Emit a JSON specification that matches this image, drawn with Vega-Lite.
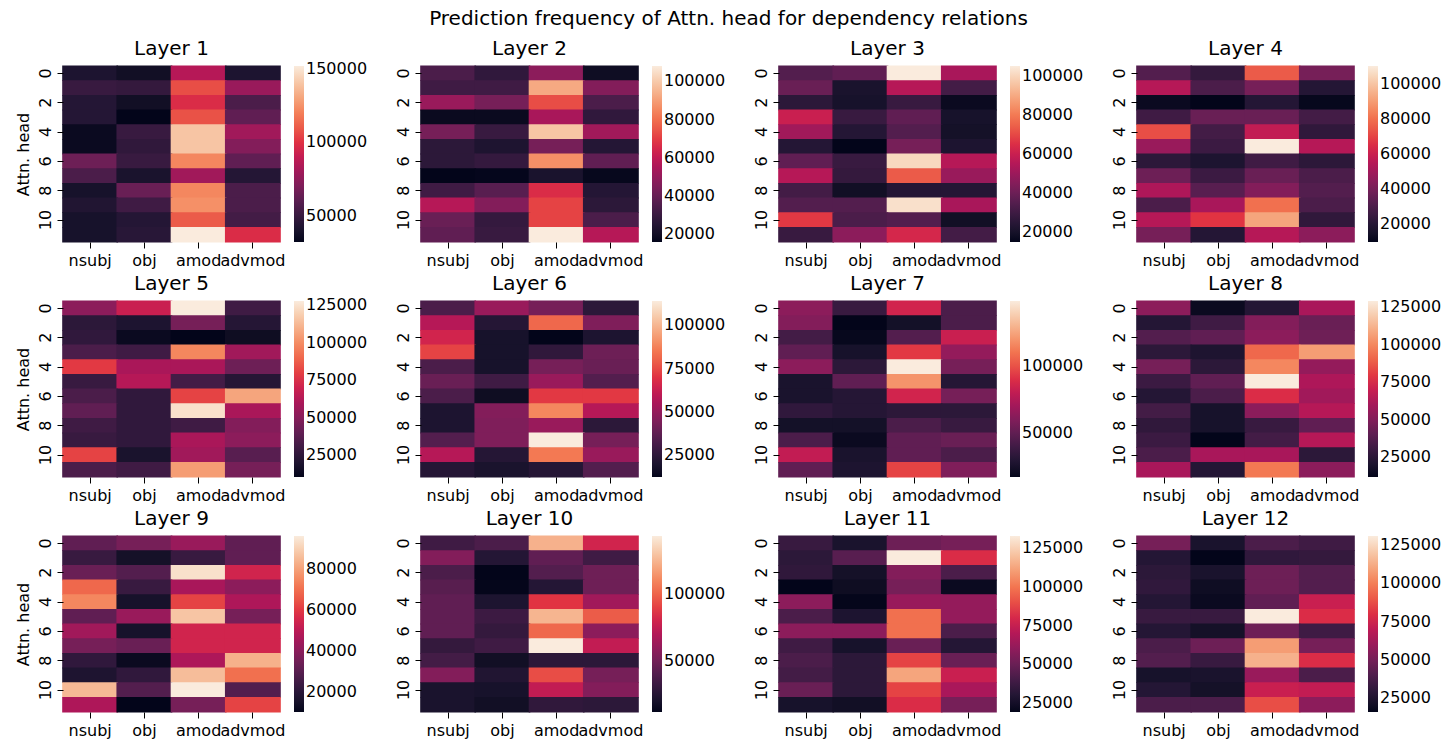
{
"$schema":"https://vega.github.io/schema/vega-lite/v6.json",
"padding":{"left":15,"top":8,"right":2,"bottom":3},
"title":{"text":"Prediction frequency of Attn. head for dependency relations","fontSize":20,"fontWeight":"normal","anchor":"middle","offset":10,"color":"#000"},
"data":{"values":[
{"l":1,"h":0,"r":"nsubj","v":41600},{"l":1,"h":0,"r":"obj","v":36800},{"l":1,"h":0,"r":"amod","v":86000},{"l":1,"h":0,"r":"advmod","v":41600},
{"l":1,"h":1,"r":"nsubj","v":50000},{"l":1,"h":1,"r":"obj","v":48800},{"l":1,"h":1,"r":"amod","v":106400},{"l":1,"h":1,"r":"advmod","v":77600},
{"l":1,"h":2,"r":"nsubj","v":44000},{"l":1,"h":2,"r":"obj","v":36800},{"l":1,"h":2,"r":"amod","v":98000},{"l":1,"h":2,"r":"advmod","v":56000},
{"l":1,"h":3,"r":"nsubj","v":44000},{"l":1,"h":3,"r":"obj","v":32000},{"l":1,"h":3,"r":"amod","v":107600},{"l":1,"h":3,"r":"advmod","v":62000},
{"l":1,"h":4,"r":"nsubj","v":34400},{"l":1,"h":4,"r":"obj","v":50000},{"l":1,"h":4,"r":"amod","v":140000},{"l":1,"h":4,"r":"advmod","v":80000},
{"l":1,"h":5,"r":"nsubj","v":34400},{"l":1,"h":5,"r":"obj","v":47600},{"l":1,"h":5,"r":"amod","v":140000},{"l":1,"h":5,"r":"advmod","v":71600},
{"l":1,"h":6,"r":"nsubj","v":65600},{"l":1,"h":6,"r":"obj","v":50000},{"l":1,"h":6,"r":"amod","v":122000},{"l":1,"h":6,"r":"advmod","v":62000},
{"l":1,"h":7,"r":"nsubj","v":56000},{"l":1,"h":7,"r":"obj","v":40400},{"l":1,"h":7,"r":"amod","v":80000},{"l":1,"h":7,"r":"advmod","v":44000},
{"l":1,"h":8,"r":"nsubj","v":39200},{"l":1,"h":8,"r":"obj","v":64400},{"l":1,"h":8,"r":"amod","v":122000},{"l":1,"h":8,"r":"advmod","v":56000},
{"l":1,"h":9,"r":"nsubj","v":42800},{"l":1,"h":9,"r":"obj","v":52400},{"l":1,"h":9,"r":"amod","v":124400},{"l":1,"h":9,"r":"advmod","v":56000},
{"l":1,"h":10,"r":"nsubj","v":39200},{"l":1,"h":10,"r":"obj","v":44000},{"l":1,"h":10,"r":"amod","v":110000},{"l":1,"h":10,"r":"advmod","v":53600},
{"l":1,"h":11,"r":"nsubj","v":39200},{"l":1,"h":11,"r":"obj","v":45200},{"l":1,"h":11,"r":"amod","v":152000},{"l":1,"h":11,"r":"advmod","v":98000},
{"l":2,"h":0,"r":"nsubj","v":34400},{"l":2,"h":0,"r":"obj","v":28000},{"l":2,"h":0,"r":"amod","v":48200},{"l":2,"h":0,"r":"advmod","v":18800},
{"l":2,"h":1,"r":"nsubj","v":31600},{"l":2,"h":1,"r":"obj","v":31600},{"l":2,"h":1,"r":"amod","v":92400},{"l":2,"h":1,"r":"advmod","v":46400},
{"l":2,"h":2,"r":"nsubj","v":51000},{"l":2,"h":2,"r":"obj","v":43600},{"l":2,"h":2,"r":"amod","v":73000},{"l":2,"h":2,"r":"advmod","v":34400},
{"l":2,"h":3,"r":"nsubj","v":17800},{"l":2,"h":3,"r":"obj","v":17800},{"l":2,"h":3,"r":"amod","v":54600},{"l":2,"h":3,"r":"advmod","v":28000},
{"l":2,"h":4,"r":"nsubj","v":43600},{"l":2,"h":4,"r":"obj","v":29800},{"l":2,"h":4,"r":"amod","v":98800},{"l":2,"h":4,"r":"advmod","v":52800},
{"l":2,"h":5,"r":"nsubj","v":27000},{"l":2,"h":5,"r":"obj","v":23400},{"l":2,"h":5,"r":"amod","v":43600},{"l":2,"h":5,"r":"advmod","v":25200},
{"l":2,"h":6,"r":"nsubj","v":27000},{"l":2,"h":6,"r":"obj","v":28900},{"l":2,"h":6,"r":"amod","v":86800},{"l":2,"h":6,"r":"advmod","v":39000},
{"l":2,"h":7,"r":"nsubj","v":16000},{"l":2,"h":7,"r":"obj","v":16500},{"l":2,"h":7,"r":"amod","v":22400},{"l":2,"h":7,"r":"advmod","v":16900},
{"l":2,"h":8,"r":"nsubj","v":31600},{"l":2,"h":8,"r":"obj","v":37200},{"l":2,"h":8,"r":"amod","v":66600},{"l":2,"h":8,"r":"advmod","v":25200},
{"l":2,"h":9,"r":"nsubj","v":57400},{"l":2,"h":9,"r":"obj","v":46400},{"l":2,"h":9,"r":"amod","v":71200},{"l":2,"h":9,"r":"advmod","v":27000},
{"l":2,"h":10,"r":"nsubj","v":40800},{"l":2,"h":10,"r":"obj","v":28900},{"l":2,"h":10,"r":"amod","v":71200},{"l":2,"h":10,"r":"advmod","v":34400},
{"l":2,"h":11,"r":"nsubj","v":39000},{"l":2,"h":11,"r":"obj","v":29800},{"l":2,"h":11,"r":"amod","v":108000},{"l":2,"h":11,"r":"advmod","v":57400},
{"l":3,"h":0,"r":"nsubj","v":34800},{"l":3,"h":0,"r":"obj","v":37500},{"l":3,"h":0,"r":"amod","v":105000},{"l":3,"h":0,"r":"advmod","v":52800},
{"l":3,"h":1,"r":"nsubj","v":39300},{"l":3,"h":1,"r":"obj","v":21300},{"l":3,"h":1,"r":"amod","v":55500},{"l":3,"h":1,"r":"advmod","v":31200},
{"l":3,"h":2,"r":"nsubj","v":25800},{"l":3,"h":2,"r":"obj","v":20400},{"l":3,"h":2,"r":"amod","v":28500},{"l":3,"h":2,"r":"advmod","v":16800},
{"l":3,"h":3,"r":"nsubj","v":60000},{"l":3,"h":3,"r":"obj","v":28500},{"l":3,"h":3,"r":"amod","v":37500},{"l":3,"h":3,"r":"advmod","v":20400},
{"l":3,"h":4,"r":"nsubj","v":51000},{"l":3,"h":4,"r":"obj","v":24000},{"l":3,"h":4,"r":"amod","v":34800},{"l":3,"h":4,"r":"advmod","v":19500},
{"l":3,"h":5,"r":"nsubj","v":24000},{"l":3,"h":5,"r":"obj","v":15000},{"l":3,"h":5,"r":"amod","v":42000},{"l":3,"h":5,"r":"advmod","v":22200},
{"l":3,"h":6,"r":"nsubj","v":37500},{"l":3,"h":6,"r":"obj","v":28500},{"l":3,"h":6,"r":"amod","v":100500},{"l":3,"h":6,"r":"advmod","v":55500},
{"l":3,"h":7,"r":"nsubj","v":55500},{"l":3,"h":7,"r":"obj","v":27600},{"l":3,"h":7,"r":"amod","v":73500},{"l":3,"h":7,"r":"advmod","v":49200},
{"l":3,"h":8,"r":"nsubj","v":31200},{"l":3,"h":8,"r":"obj","v":18600},{"l":3,"h":8,"r":"amod","v":24000},{"l":3,"h":8,"r":"advmod","v":24000},
{"l":3,"h":9,"r":"nsubj","v":34800},{"l":3,"h":9,"r":"obj","v":34800},{"l":3,"h":9,"r":"amod","v":102300},{"l":3,"h":9,"r":"advmod","v":52800},
{"l":3,"h":10,"r":"nsubj","v":67200},{"l":3,"h":10,"r":"obj","v":33000},{"l":3,"h":10,"r":"amod","v":34800},{"l":3,"h":10,"r":"advmod","v":18600},
{"l":3,"h":11,"r":"nsubj","v":28500},{"l":3,"h":11,"r":"obj","v":46500},{"l":3,"h":11,"r":"amod","v":62700},{"l":3,"h":11,"r":"advmod","v":31200},
{"l":4,"h":0,"r":"nsubj","v":32000},{"l":4,"h":0,"r":"obj","v":24000},{"l":4,"h":0,"r":"amod","v":75000},{"l":4,"h":0,"r":"advmod","v":40000},
{"l":4,"h":1,"r":"nsubj","v":55000},{"l":4,"h":1,"r":"obj","v":30000},{"l":4,"h":1,"r":"amod","v":40000},{"l":4,"h":1,"r":"advmod","v":20000},
{"l":4,"h":2,"r":"nsubj","v":12000},{"l":4,"h":2,"r":"obj","v":10000},{"l":4,"h":2,"r":"amod","v":20000},{"l":4,"h":2,"r":"advmod","v":11000},
{"l":4,"h":3,"r":"nsubj","v":27000},{"l":4,"h":3,"r":"obj","v":37000},{"l":4,"h":3,"r":"amod","v":37000},{"l":4,"h":3,"r":"advmod","v":28000},
{"l":4,"h":4,"r":"nsubj","v":72000},{"l":4,"h":4,"r":"obj","v":28000},{"l":4,"h":4,"r":"amod","v":58000},{"l":4,"h":4,"r":"advmod","v":23000},
{"l":4,"h":5,"r":"nsubj","v":48000},{"l":4,"h":5,"r":"obj","v":26000},{"l":4,"h":5,"r":"amod","v":110000},{"l":4,"h":5,"r":"advmod","v":55000},
{"l":4,"h":6,"r":"nsubj","v":22000},{"l":4,"h":6,"r":"obj","v":18000},{"l":4,"h":6,"r":"amod","v":27000},{"l":4,"h":6,"r":"advmod","v":22000},
{"l":4,"h":7,"r":"nsubj","v":38000},{"l":4,"h":7,"r":"obj","v":26000},{"l":4,"h":7,"r":"amod","v":37000},{"l":4,"h":7,"r":"advmod","v":30000},
{"l":4,"h":8,"r":"nsubj","v":53000},{"l":4,"h":8,"r":"obj","v":33000},{"l":4,"h":8,"r":"amod","v":43000},{"l":4,"h":8,"r":"advmod","v":32000},
{"l":4,"h":9,"r":"nsubj","v":30000},{"l":4,"h":9,"r":"obj","v":52000},{"l":4,"h":9,"r":"amod","v":80000},{"l":4,"h":9,"r":"advmod","v":30000},
{"l":4,"h":10,"r":"nsubj","v":55000},{"l":4,"h":10,"r":"obj","v":67000},{"l":4,"h":10,"r":"amod","v":92000},{"l":4,"h":10,"r":"advmod","v":23000},
{"l":4,"h":11,"r":"nsubj","v":40000},{"l":4,"h":11,"r":"obj","v":20000},{"l":4,"h":11,"r":"amod","v":55000},{"l":4,"h":11,"r":"advmod","v":45000},
{"l":5,"h":0,"r":"nsubj","v":51600},{"l":5,"h":0,"r":"obj","v":69300},{"l":5,"h":0,"r":"amod","v":128000},{"l":5,"h":0,"r":"advmod","v":30500},
{"l":5,"h":1,"r":"nsubj","v":24600},{"l":5,"h":1,"r":"obj","v":19900},{"l":5,"h":1,"r":"amod","v":45800},{"l":5,"h":1,"r":"advmod","v":22300},
{"l":5,"h":2,"r":"nsubj","v":25800},{"l":5,"h":2,"r":"obj","v":12900},{"l":5,"h":2,"r":"amod","v":10500},{"l":5,"h":2,"r":"advmod","v":14000},
{"l":5,"h":3,"r":"nsubj","v":34000},{"l":5,"h":3,"r":"obj","v":30500},{"l":5,"h":3,"r":"amod","v":98600},{"l":5,"h":3,"r":"advmod","v":57500},
{"l":5,"h":4,"r":"nsubj","v":78700},{"l":5,"h":4,"r":"obj","v":59900},{"l":5,"h":4,"r":"amod","v":59900},{"l":5,"h":4,"r":"advmod","v":43400},
{"l":5,"h":5,"r":"nsubj","v":28100},{"l":5,"h":5,"r":"obj","v":63400},{"l":5,"h":5,"r":"amod","v":31700},{"l":5,"h":5,"r":"advmod","v":22300},
{"l":5,"h":6,"r":"nsubj","v":34000},{"l":5,"h":6,"r":"obj","v":25800},{"l":5,"h":6,"r":"amod","v":81000},{"l":5,"h":6,"r":"advmod","v":106900},
{"l":5,"h":7,"r":"nsubj","v":39900},{"l":5,"h":7,"r":"obj","v":25800},{"l":5,"h":7,"r":"amod","v":124500},{"l":5,"h":7,"r":"advmod","v":59900},
{"l":5,"h":8,"r":"nsubj","v":30500},{"l":5,"h":8,"r":"obj","v":25800},{"l":5,"h":8,"r":"amod","v":30500},{"l":5,"h":8,"r":"advmod","v":49300},
{"l":5,"h":9,"r":"nsubj","v":28100},{"l":5,"h":9,"r":"obj","v":25800},{"l":5,"h":9,"r":"amod","v":59900},{"l":5,"h":9,"r":"advmod","v":51600},
{"l":5,"h":10,"r":"nsubj","v":81000},{"l":5,"h":10,"r":"obj","v":18700},{"l":5,"h":10,"r":"amod","v":57500},{"l":5,"h":10,"r":"advmod","v":37500},
{"l":5,"h":11,"r":"nsubj","v":34000},{"l":5,"h":11,"r":"obj","v":30500},{"l":5,"h":11,"r":"amod","v":104500},{"l":5,"h":11,"r":"advmod","v":45800},
{"l":6,"h":0,"r":"nsubj","v":32800},{"l":6,"h":0,"r":"obj","v":51100},{"l":6,"h":0,"r":"amod","v":43000},{"l":6,"h":0,"r":"advmod","v":24700},
{"l":6,"h":1,"r":"nsubj","v":58200},{"l":6,"h":1,"r":"obj","v":22700},{"l":6,"h":1,"r":"amod","v":81500},{"l":6,"h":1,"r":"advmod","v":45000},
{"l":6,"h":2,"r":"nsubj","v":65300},{"l":6,"h":2,"r":"obj","v":18600},{"l":6,"h":2,"r":"amod","v":12500},{"l":6,"h":2,"r":"advmod","v":20600},
{"l":6,"h":3,"r":"nsubj","v":73400},{"l":6,"h":3,"r":"obj","v":18600},{"l":6,"h":3,"r":"amod","v":25700},{"l":6,"h":3,"r":"advmod","v":40900},
{"l":6,"h":4,"r":"nsubj","v":32800},{"l":6,"h":4,"r":"obj","v":18600},{"l":6,"h":4,"r":"amod","v":43000},{"l":6,"h":4,"r":"advmod","v":39900},
{"l":6,"h":5,"r":"nsubj","v":39900},{"l":6,"h":5,"r":"obj","v":29800},{"l":6,"h":5,"r":"amod","v":51100},{"l":6,"h":5,"r":"advmod","v":34800},
{"l":6,"h":6,"r":"nsubj","v":32800},{"l":6,"h":6,"r":"obj","v":15500},{"l":6,"h":6,"r":"amod","v":71400},{"l":6,"h":6,"r":"advmod","v":71400},
{"l":6,"h":7,"r":"nsubj","v":20600},{"l":6,"h":7,"r":"obj","v":46000},{"l":6,"h":7,"r":"amod","v":88600},{"l":6,"h":7,"r":"advmod","v":58200},
{"l":6,"h":8,"r":"nsubj","v":20600},{"l":6,"h":8,"r":"obj","v":45000},{"l":6,"h":8,"r":"amod","v":51100},{"l":6,"h":8,"r":"advmod","v":24700},
{"l":6,"h":9,"r":"nsubj","v":34800},{"l":6,"h":9,"r":"obj","v":45000},{"l":6,"h":9,"r":"amod","v":114000},{"l":6,"h":9,"r":"advmod","v":43000},
{"l":6,"h":10,"r":"nsubj","v":58200},{"l":6,"h":10,"r":"obj","v":22700},{"l":6,"h":10,"r":"amod","v":85600},{"l":6,"h":10,"r":"advmod","v":51100},
{"l":6,"h":11,"r":"nsubj","v":22700},{"l":6,"h":11,"r":"obj","v":19600},{"l":6,"h":11,"r":"amod","v":22700},{"l":6,"h":11,"r":"advmod","v":34800},
{"l":7,"h":0,"r":"nsubj","v":63200},{"l":7,"h":0,"r":"obj","v":37100},{"l":7,"h":0,"r":"amod","v":85400},{"l":7,"h":0,"r":"advmod","v":43600},
{"l":7,"h":1,"r":"nsubj","v":60600},{"l":7,"h":1,"r":"obj","v":17500},{"l":7,"h":1,"r":"amod","v":24000},{"l":7,"h":1,"r":"advmod","v":43600},
{"l":7,"h":2,"r":"nsubj","v":41000},{"l":7,"h":2,"r":"obj","v":18800},{"l":7,"h":2,"r":"amod","v":46200},{"l":7,"h":2,"r":"advmod","v":82800},
{"l":7,"h":3,"r":"nsubj","v":50100},{"l":7,"h":3,"r":"obj","v":25300},{"l":7,"h":3,"r":"amod","v":93200},{"l":7,"h":3,"r":"advmod","v":65800},
{"l":7,"h":4,"r":"nsubj","v":63200},{"l":7,"h":4,"r":"obj","v":33200},{"l":7,"h":4,"r":"amod","v":148000},{"l":7,"h":4,"r":"advmod","v":56700},
{"l":7,"h":5,"r":"nsubj","v":26600},{"l":7,"h":5,"r":"obj","v":50100},{"l":7,"h":5,"r":"amod","v":119300},{"l":7,"h":5,"r":"advmod","v":30600},
{"l":7,"h":6,"r":"nsubj","v":26600},{"l":7,"h":6,"r":"obj","v":30600},{"l":7,"h":6,"r":"amod","v":85400},{"l":7,"h":6,"r":"advmod","v":56700},
{"l":7,"h":7,"r":"nsubj","v":34500},{"l":7,"h":7,"r":"obj","v":30600},{"l":7,"h":7,"r":"amod","v":33200},{"l":7,"h":7,"r":"advmod","v":33200},
{"l":7,"h":8,"r":"nsubj","v":24000},{"l":7,"h":8,"r":"obj","v":24000},{"l":7,"h":8,"r":"amod","v":43600},{"l":7,"h":8,"r":"advmod","v":37100},
{"l":7,"h":9,"r":"nsubj","v":43600},{"l":7,"h":9,"r":"obj","v":20100},{"l":7,"h":9,"r":"amod","v":50100},{"l":7,"h":9,"r":"advmod","v":52700},
{"l":7,"h":10,"r":"nsubj","v":80100},{"l":7,"h":10,"r":"obj","v":26600},{"l":7,"h":10,"r":"amod","v":50100},{"l":7,"h":10,"r":"advmod","v":43600},
{"l":7,"h":11,"r":"nsubj","v":50100},{"l":7,"h":11,"r":"obj","v":27900},{"l":7,"h":11,"r":"amod","v":95800},{"l":7,"h":11,"r":"advmod","v":59300},
{"l":8,"h":0,"r":"nsubj","v":53000},{"l":8,"h":0,"r":"obj","v":14300},{"l":8,"h":0,"r":"amod","v":23700},{"l":8,"h":0,"r":"advmod","v":61100},
{"l":8,"h":1,"r":"nsubj","v":23700},{"l":8,"h":1,"r":"obj","v":31900},{"l":8,"h":1,"r":"amod","v":50600},{"l":8,"h":1,"r":"advmod","v":43600},
{"l":8,"h":2,"r":"nsubj","v":37700},{"l":8,"h":2,"r":"obj","v":41300},{"l":8,"h":2,"r":"amod","v":53000},{"l":8,"h":2,"r":"advmod","v":44800},
{"l":8,"h":3,"r":"nsubj","v":26000},{"l":8,"h":3,"r":"obj","v":21400},{"l":8,"h":3,"r":"amod","v":91600},{"l":8,"h":3,"r":"advmod","v":105600},
{"l":8,"h":4,"r":"nsubj","v":47100},{"l":8,"h":4,"r":"obj","v":26000},{"l":8,"h":4,"r":"amod","v":99800},{"l":8,"h":4,"r":"advmod","v":55300},
{"l":8,"h":5,"r":"nsubj","v":30700},{"l":8,"h":5,"r":"obj","v":41300},{"l":8,"h":5,"r":"amod","v":129000},{"l":8,"h":5,"r":"advmod","v":62300},
{"l":8,"h":6,"r":"nsubj","v":23700},{"l":8,"h":6,"r":"obj","v":35400},{"l":8,"h":6,"r":"amod","v":76400},{"l":8,"h":6,"r":"advmod","v":58800},
{"l":8,"h":7,"r":"nsubj","v":33100},{"l":8,"h":7,"r":"obj","v":19000},{"l":8,"h":7,"r":"amod","v":53000},{"l":8,"h":7,"r":"advmod","v":64700},
{"l":8,"h":8,"r":"nsubj","v":27200},{"l":8,"h":8,"r":"obj","v":19000},{"l":8,"h":8,"r":"amod","v":29600},{"l":8,"h":8,"r":"advmod","v":41300},
{"l":8,"h":9,"r":"nsubj","v":30700},{"l":8,"h":9,"r":"obj","v":12000},{"l":8,"h":9,"r":"amod","v":33100},{"l":8,"h":9,"r":"advmod","v":64700},
{"l":8,"h":10,"r":"nsubj","v":35400},{"l":8,"h":10,"r":"obj","v":61100},{"l":8,"h":10,"r":"amod","v":61100},{"l":8,"h":10,"r":"advmod","v":26000},
{"l":8,"h":11,"r":"nsubj","v":61100},{"l":8,"h":11,"r":"obj","v":23700},{"l":8,"h":11,"r":"amod","v":96200},{"l":8,"h":11,"r":"advmod","v":53000},
{"l":9,"h":0,"r":"nsubj","v":31500},{"l":9,"h":0,"r":"obj","v":35800},{"l":9,"h":0,"r":"amod","v":42700},{"l":9,"h":0,"r":"advmod","v":31500},
{"l":9,"h":1,"r":"nsubj","v":22900},{"l":9,"h":1,"r":"obj","v":14300},{"l":9,"h":1,"r":"amod","v":22900},{"l":9,"h":1,"r":"advmod","v":31500},
{"l":9,"h":2,"r":"nsubj","v":33200},{"l":9,"h":2,"r":"obj","v":28900},{"l":9,"h":2,"r":"amod","v":93400},{"l":9,"h":2,"r":"advmod","v":54700},
{"l":9,"h":3,"r":"nsubj","v":68500},{"l":9,"h":3,"r":"obj","v":22900},{"l":9,"h":3,"r":"amod","v":46100},{"l":9,"h":3,"r":"advmod","v":40100},
{"l":9,"h":4,"r":"nsubj","v":74500},{"l":9,"h":4,"r":"obj","v":15200},{"l":9,"h":4,"r":"amod","v":61600},{"l":9,"h":4,"r":"advmod","v":47000},
{"l":9,"h":5,"r":"nsubj","v":31500},{"l":9,"h":5,"r":"obj","v":42700},{"l":9,"h":5,"r":"amod","v":87400},{"l":9,"h":5,"r":"advmod","v":35800},
{"l":9,"h":6,"r":"nsubj","v":44400},{"l":9,"h":6,"r":"obj","v":15200},{"l":9,"h":6,"r":"amod","v":54700},{"l":9,"h":6,"r":"advmod","v":54700},
{"l":9,"h":7,"r":"nsubj","v":35800},{"l":9,"h":7,"r":"obj","v":33200},{"l":9,"h":7,"r":"amod","v":54700},{"l":9,"h":7,"r":"advmod","v":54700},
{"l":9,"h":8,"r":"nsubj","v":21200},{"l":9,"h":8,"r":"obj","v":11700},{"l":9,"h":8,"r":"amod","v":47000},{"l":9,"h":8,"r":"advmod","v":83100},
{"l":9,"h":9,"r":"nsubj","v":16900},{"l":9,"h":9,"r":"obj","v":21200},{"l":9,"h":9,"r":"amod","v":85700},{"l":9,"h":9,"r":"advmod","v":70200},
{"l":9,"h":10,"r":"nsubj","v":84800},{"l":9,"h":10,"r":"obj","v":28900},{"l":9,"h":10,"r":"amod","v":96000},{"l":9,"h":10,"r":"advmod","v":28900},
{"l":9,"h":11,"r":"nsubj","v":47000},{"l":9,"h":11,"r":"obj","v":10000},{"l":9,"h":11,"r":"amod","v":35800},{"l":9,"h":11,"r":"advmod","v":61600},
{"l":10,"h":0,"r":"nsubj","v":34300},{"l":10,"h":0,"r":"obj","v":38200},{"l":10,"h":0,"r":"amod","v":123400},{"l":10,"h":0,"r":"advmod","v":80100},
{"l":10,"h":1,"r":"nsubj","v":55200},{"l":10,"h":1,"r":"obj","v":25100},{"l":10,"h":1,"r":"amod","v":44800},{"l":10,"h":1,"r":"advmod","v":34300},
{"l":10,"h":2,"r":"nsubj","v":38200},{"l":10,"h":2,"r":"obj","v":12000},{"l":10,"h":2,"r":"amod","v":40800},{"l":10,"h":2,"r":"advmod","v":48700},
{"l":10,"h":3,"r":"nsubj","v":42100},{"l":10,"h":3,"r":"obj","v":12700},{"l":10,"h":3,"r":"amod","v":25100},{"l":10,"h":3,"r":"advmod","v":48700},
{"l":10,"h":4,"r":"nsubj","v":44800},{"l":10,"h":4,"r":"obj","v":22500},{"l":10,"h":4,"r":"amod","v":86700},{"l":10,"h":4,"r":"advmod","v":64400},
{"l":10,"h":5,"r":"nsubj","v":44800},{"l":10,"h":5,"r":"obj","v":33000},{"l":10,"h":5,"r":"amod","v":124700},{"l":10,"h":5,"r":"advmod","v":97200},
{"l":10,"h":6,"r":"nsubj","v":44800},{"l":10,"h":6,"r":"obj","v":30300},{"l":10,"h":6,"r":"amod","v":101100},{"l":10,"h":6,"r":"advmod","v":57900},
{"l":10,"h":7,"r":"nsubj","v":30300},{"l":10,"h":7,"r":"obj","v":34300},{"l":10,"h":7,"r":"amod","v":143000},{"l":10,"h":7,"r":"advmod","v":74900},
{"l":10,"h":8,"r":"nsubj","v":35600},{"l":10,"h":8,"r":"obj","v":17200},{"l":10,"h":8,"r":"amod","v":27700},{"l":10,"h":8,"r":"advmod","v":27700},
{"l":10,"h":9,"r":"nsubj","v":55200},{"l":10,"h":9,"r":"obj","v":23800},{"l":10,"h":9,"r":"amod","v":93200},{"l":10,"h":9,"r":"advmod","v":51300},
{"l":10,"h":10,"r":"nsubj","v":21200},{"l":10,"h":10,"r":"obj","v":19900},{"l":10,"h":10,"r":"amod","v":74900},{"l":10,"h":10,"r":"advmod","v":55200},
{"l":10,"h":11,"r":"nsubj","v":21200},{"l":10,"h":11,"r":"obj","v":17200},{"l":10,"h":11,"r":"amod","v":29000},{"l":10,"h":11,"r":"advmod","v":27700},
{"l":11,"h":0,"r":"nsubj","v":36100},{"l":11,"h":0,"r":"obj","v":27000},{"l":11,"h":0,"r":"amod","v":50900},{"l":11,"h":0,"r":"advmod","v":53200},
{"l":11,"h":1,"r":"nsubj","v":32700},{"l":11,"h":1,"r":"obj","v":45200},{"l":11,"h":1,"r":"amod","v":133000},{"l":11,"h":1,"r":"advmod","v":81700},
{"l":11,"h":2,"r":"nsubj","v":33800},{"l":11,"h":2,"r":"obj","v":24700},{"l":11,"h":2,"r":"amod","v":56600},{"l":11,"h":2,"r":"advmod","v":41800},
{"l":11,"h":3,"r":"nsubj","v":19000},{"l":11,"h":3,"r":"obj","v":22400},{"l":11,"h":3,"r":"amod","v":53200},{"l":11,"h":3,"r":"advmod","v":21300},
{"l":11,"h":4,"r":"nsubj","v":58900},{"l":11,"h":4,"r":"obj","v":19600},{"l":11,"h":4,"r":"amod","v":62300},{"l":11,"h":4,"r":"advmod","v":61200},
{"l":11,"h":5,"r":"nsubj","v":41800},{"l":11,"h":5,"r":"obj","v":28100},{"l":11,"h":5,"r":"amod","v":98800},{"l":11,"h":5,"r":"advmod","v":61200},
{"l":11,"h":6,"r":"nsubj","v":58900},{"l":11,"h":6,"r":"obj","v":58900},{"l":11,"h":6,"r":"amod","v":98800},{"l":11,"h":6,"r":"advmod","v":41800},
{"l":11,"h":7,"r":"nsubj","v":38400},{"l":11,"h":7,"r":"obj","v":25800},{"l":11,"h":7,"r":"amod","v":49800},{"l":11,"h":7,"r":"advmod","v":30400},
{"l":11,"h":8,"r":"nsubj","v":41800},{"l":11,"h":8,"r":"obj","v":32700},{"l":11,"h":8,"r":"amod","v":87400},{"l":11,"h":8,"r":"advmod","v":49800},
{"l":11,"h":9,"r":"nsubj","v":39500},{"l":11,"h":9,"r":"obj","v":32700},{"l":11,"h":9,"r":"amod","v":112500},{"l":11,"h":9,"r":"advmod","v":76000},
{"l":11,"h":10,"r":"nsubj","v":49800},{"l":11,"h":10,"r":"obj","v":32700},{"l":11,"h":10,"r":"amod","v":87400},{"l":11,"h":10,"r":"advmod","v":66900},
{"l":11,"h":11,"r":"nsubj","v":25800},{"l":11,"h":11,"r":"obj","v":23600},{"l":11,"h":11,"r":"amod","v":81700},{"l":11,"h":11,"r":"advmod","v":53200},
{"l":12,"h":0,"r":"nsubj","v":50500},{"l":12,"h":0,"r":"obj","v":24100},{"l":12,"h":0,"r":"amod","v":39000},{"l":12,"h":0,"r":"advmod","v":35600},
{"l":12,"h":1,"r":"nsubj","v":27500},{"l":12,"h":1,"r":"obj","v":16000},{"l":12,"h":1,"r":"amod","v":31000},{"l":12,"h":1,"r":"advmod","v":32100},
{"l":12,"h":2,"r":"nsubj","v":29800},{"l":12,"h":2,"r":"obj","v":24100},{"l":12,"h":2,"r":"amod","v":48200},{"l":12,"h":2,"r":"advmod","v":41300},
{"l":12,"h":3,"r":"nsubj","v":31000},{"l":12,"h":3,"r":"obj","v":19500},{"l":12,"h":3,"r":"amod","v":48200},{"l":12,"h":3,"r":"advmod","v":41300},
{"l":12,"h":4,"r":"nsubj","v":27500},{"l":12,"h":4,"r":"obj","v":18300},{"l":12,"h":4,"r":"amod","v":44800},{"l":12,"h":4,"r":"advmod","v":73500},
{"l":12,"h":5,"r":"nsubj","v":33300},{"l":12,"h":5,"r":"obj","v":33300},{"l":12,"h":5,"r":"amod","v":131000},{"l":12,"h":5,"r":"advmod","v":79300},
{"l":12,"h":6,"r":"nsubj","v":27500},{"l":12,"h":6,"r":"obj","v":21800},{"l":12,"h":6,"r":"amod","v":48200},{"l":12,"h":6,"r":"advmod","v":35600},
{"l":12,"h":7,"r":"nsubj","v":39000},{"l":12,"h":7,"r":"obj","v":48200},{"l":12,"h":7,"r":"amod","v":108000},{"l":12,"h":7,"r":"advmod","v":50500},
{"l":12,"h":8,"r":"nsubj","v":41300},{"l":12,"h":8,"r":"obj","v":33300},{"l":12,"h":8,"r":"amod","v":113800},{"l":12,"h":8,"r":"advmod","v":79300},
{"l":12,"h":9,"r":"nsubj","v":22900},{"l":12,"h":9,"r":"obj","v":24100},{"l":12,"h":9,"r":"amod","v":59700},{"l":12,"h":9,"r":"advmod","v":39000},
{"l":12,"h":10,"r":"nsubj","v":27500},{"l":12,"h":10,"r":"obj","v":21800},{"l":12,"h":10,"r":"amod","v":73500},{"l":12,"h":10,"r":"advmod","v":71200},
{"l":12,"h":11,"r":"nsubj","v":39000},{"l":12,"h":11,"r":"obj","v":39000},{"l":12,"h":11,"r":"amod","v":87300},{"l":12,"h":11,"r":"advmod","v":56300}
]},
"columns":4,
"spacing":{"row":5,"column":27},
"resolve":{"scale":{"color":"independent"}},
"concat":[
{"title":"Layer 1","transform":[{"filter":"datum.l==1"}],"width":217,"height":176,"mark":{"type":"rect","width":{"band":1.03},"height":{"band":1.06}},"encoding":{"x":{"field":"r","type":"nominal","sort":["nsubj","obj","amod","advmod"]},"y":{"field":"h","type":"ordinal","axis":{"title":"Attn. head","values":[0,2,4,6,8,10]}},"color":{"field":"v","type":"quantitative","scale":{"range":["#03051a","#35193e","#701f57","#ad1759","#e13342","#f37651","#f6b48f","#faebdd"],"nice":false,"zero":false},"legend":{"title":null,"values":[50000,100000,150000],"format":"d"}}}},
{"title":"Layer 2","transform":[{"filter":"datum.l==2"}],"width":217,"height":176,"mark":{"type":"rect","width":{"band":1.03},"height":{"band":1.06}},"encoding":{"x":{"field":"r","type":"nominal","sort":["nsubj","obj","amod","advmod"]},"y":{"field":"h","type":"ordinal","axis":{"title":null,"values":[0,2,4,6,8,10]}},"color":{"field":"v","type":"quantitative","scale":{"range":["#03051a","#35193e","#701f57","#ad1759","#e13342","#f37651","#f6b48f","#faebdd"],"nice":false,"zero":false},"legend":{"title":null,"values":[20000,40000,60000,80000,100000],"format":"d"}}}},
{"title":"Layer 3","transform":[{"filter":"datum.l==3"}],"width":217,"height":176,"mark":{"type":"rect","width":{"band":1.03},"height":{"band":1.06}},"encoding":{"x":{"field":"r","type":"nominal","sort":["nsubj","obj","amod","advmod"]},"y":{"field":"h","type":"ordinal","axis":{"title":null,"values":[0,2,4,6,8,10]}},"color":{"field":"v","type":"quantitative","scale":{"range":["#03051a","#35193e","#701f57","#ad1759","#e13342","#f37651","#f6b48f","#faebdd"],"nice":false,"zero":false},"legend":{"title":null,"values":[20000,40000,60000,80000,100000],"format":"d"}}}},
{"title":"Layer 4","transform":[{"filter":"datum.l==4"}],"width":217,"height":176,"mark":{"type":"rect","width":{"band":1.03},"height":{"band":1.06}},"encoding":{"x":{"field":"r","type":"nominal","sort":["nsubj","obj","amod","advmod"]},"y":{"field":"h","type":"ordinal","axis":{"title":null,"values":[0,2,4,6,8,10]}},"color":{"field":"v","type":"quantitative","scale":{"range":["#03051a","#35193e","#701f57","#ad1759","#e13342","#f37651","#f6b48f","#faebdd"],"nice":false,"zero":false},"legend":{"title":null,"values":[20000,40000,60000,80000,100000],"format":"d"}}}},
{"title":"Layer 5","transform":[{"filter":"datum.l==5"}],"width":217,"height":176,"mark":{"type":"rect","width":{"band":1.03},"height":{"band":1.06}},"encoding":{"x":{"field":"r","type":"nominal","sort":["nsubj","obj","amod","advmod"]},"y":{"field":"h","type":"ordinal","axis":{"title":"Attn. head","values":[0,2,4,6,8,10]}},"color":{"field":"v","type":"quantitative","scale":{"range":["#03051a","#35193e","#701f57","#ad1759","#e13342","#f37651","#f6b48f","#faebdd"],"nice":false,"zero":false},"legend":{"title":null,"values":[25000,50000,75000,100000,125000],"format":"d"}}}},
{"title":"Layer 6","transform":[{"filter":"datum.l==6"}],"width":217,"height":176,"mark":{"type":"rect","width":{"band":1.03},"height":{"band":1.06}},"encoding":{"x":{"field":"r","type":"nominal","sort":["nsubj","obj","amod","advmod"]},"y":{"field":"h","type":"ordinal","axis":{"title":null,"values":[0,2,4,6,8,10]}},"color":{"field":"v","type":"quantitative","scale":{"range":["#03051a","#35193e","#701f57","#ad1759","#e13342","#f37651","#f6b48f","#faebdd"],"nice":false,"zero":false},"legend":{"title":null,"values":[25000,50000,75000,100000],"format":"d"}}}},
{"title":"Layer 7","transform":[{"filter":"datum.l==7"}],"width":217,"height":176,"mark":{"type":"rect","width":{"band":1.03},"height":{"band":1.06}},"encoding":{"x":{"field":"r","type":"nominal","sort":["nsubj","obj","amod","advmod"]},"y":{"field":"h","type":"ordinal","axis":{"title":null,"values":[0,2,4,6,8,10]}},"color":{"field":"v","type":"quantitative","scale":{"range":["#03051a","#35193e","#701f57","#ad1759","#e13342","#f37651","#f6b48f","#faebdd"],"nice":false,"zero":false},"legend":{"title":null,"values":[50000,100000],"format":"d"}}}},
{"title":"Layer 8","transform":[{"filter":"datum.l==8"}],"width":217,"height":176,"mark":{"type":"rect","width":{"band":1.03},"height":{"band":1.06}},"encoding":{"x":{"field":"r","type":"nominal","sort":["nsubj","obj","amod","advmod"]},"y":{"field":"h","type":"ordinal","axis":{"title":null,"values":[0,2,4,6,8,10]}},"color":{"field":"v","type":"quantitative","scale":{"range":["#03051a","#35193e","#701f57","#ad1759","#e13342","#f37651","#f6b48f","#faebdd"],"nice":false,"zero":false},"legend":{"title":null,"values":[25000,50000,75000,100000,125000],"format":"d"}}}},
{"title":"Layer 9","transform":[{"filter":"datum.l==9"}],"width":217,"height":176,"mark":{"type":"rect","width":{"band":1.03},"height":{"band":1.06}},"encoding":{"x":{"field":"r","type":"nominal","sort":["nsubj","obj","amod","advmod"]},"y":{"field":"h","type":"ordinal","axis":{"title":"Attn. head","values":[0,2,4,6,8,10]}},"color":{"field":"v","type":"quantitative","scale":{"range":["#03051a","#35193e","#701f57","#ad1759","#e13342","#f37651","#f6b48f","#faebdd"],"nice":false,"zero":false},"legend":{"title":null,"values":[20000,40000,60000,80000],"format":"d"}}}},
{"title":"Layer 10","transform":[{"filter":"datum.l==10"}],"width":217,"height":176,"mark":{"type":"rect","width":{"band":1.03},"height":{"band":1.06}},"encoding":{"x":{"field":"r","type":"nominal","sort":["nsubj","obj","amod","advmod"]},"y":{"field":"h","type":"ordinal","axis":{"title":null,"values":[0,2,4,6,8,10]}},"color":{"field":"v","type":"quantitative","scale":{"range":["#03051a","#35193e","#701f57","#ad1759","#e13342","#f37651","#f6b48f","#faebdd"],"nice":false,"zero":false},"legend":{"title":null,"values":[50000,100000],"format":"d"}}}},
{"title":"Layer 11","transform":[{"filter":"datum.l==11"}],"width":217,"height":176,"mark":{"type":"rect","width":{"band":1.03},"height":{"band":1.06}},"encoding":{"x":{"field":"r","type":"nominal","sort":["nsubj","obj","amod","advmod"]},"y":{"field":"h","type":"ordinal","axis":{"title":null,"values":[0,2,4,6,8,10]}},"color":{"field":"v","type":"quantitative","scale":{"range":["#03051a","#35193e","#701f57","#ad1759","#e13342","#f37651","#f6b48f","#faebdd"],"nice":false,"zero":false},"legend":{"title":null,"values":[25000,50000,75000,100000,125000],"format":"d"}}}},
{"title":"Layer 12","transform":[{"filter":"datum.l==12"}],"width":217,"height":176,"mark":{"type":"rect","width":{"band":1.03},"height":{"band":1.06}},"encoding":{"x":{"field":"r","type":"nominal","sort":["nsubj","obj","amod","advmod"]},"y":{"field":"h","type":"ordinal","axis":{"title":null,"values":[0,2,4,6,8,10]}},"color":{"field":"v","type":"quantitative","scale":{"range":["#03051a","#35193e","#701f57","#ad1759","#e13342","#f37651","#f6b48f","#faebdd"],"nice":false,"zero":false},"legend":{"title":null,"values":[25000,50000,75000,100000,125000],"format":"d"}}}}
],
"config":{
"font":"DejaVu Sans",
"view":{"stroke":null},
"axis":{"domain":false,"grid":false,"tickColor":"#000","tickSize":6,"labelColor":"#000","labelFontSize":16,"labelPadding":4,"titleFontSize":16,"titleFontWeight":"normal","titleColor":"#000","titlePadding":6},
"axisX":{"labelAngle":0,"title":null},
"axisY":{"labelAngle":-90},
"legend":{"gradientLength":176,"gradientThickness":10,"labelFontSize":16,"labelColor":"#000","offset":14,"labelOverlap":false,"gradientStrokeWidth":0,"labelOffset":8},
"title":{"fontSize":20,"fontWeight":"normal","color":"#000","offset":7}
}
}
